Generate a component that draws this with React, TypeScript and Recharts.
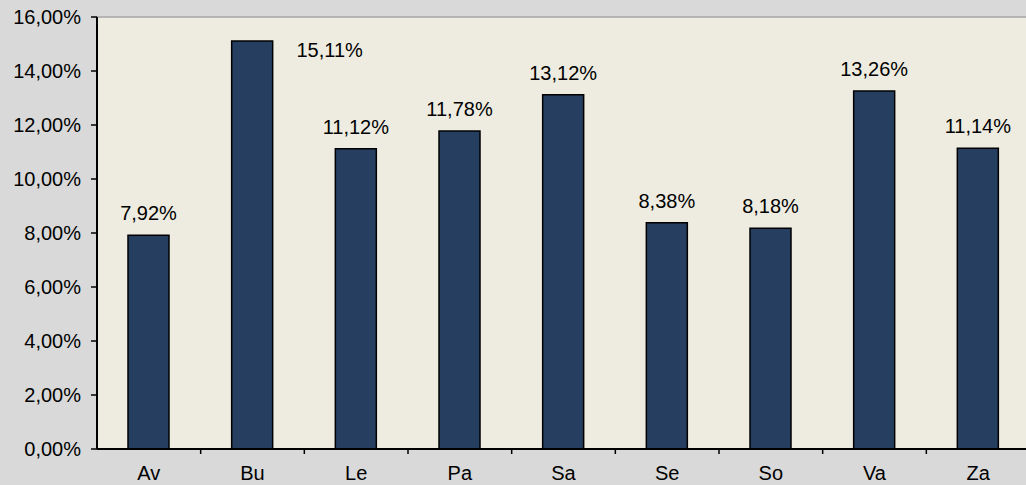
import { BarChart, Bar, XAxis, YAxis, CartesianGrid, LabelList, ReferenceLine } from "recharts"

const categories = ["Av", "Bu", "Le", "Pa", "Sa", "Se", "So", "Va", "Za"]
const shares = [7.92, 15.11, 11.12, 11.78, 13.12, 8.38, 8.18, 13.26, 11.14]
const yTicks = [0, 2, 4, 6, 8, 10, 12, 14, 16]

const data = categories.map((name, i) => ({ name, value: shares[i] }))

const fmt = (v: number) => v.toFixed(2).replace(".", ",") + "%"

const FONT = "Liberation Sans, Arial, sans-serif"
const BAND = 933 / categories.length

function CategoryTick(props: any) {
  const { x, y, payload, index } = props
  return (
    <g>
      {index < categories.length - 1 && (
        <line x1={x + BAND / 2} x2={x + BAND / 2} y1={y - 8} y2={y - 3} stroke="#000" strokeWidth={1.5} />
      )}
      <text x={x} y={y + 23} textAnchor="middle" fontSize={20} fontFamily={FONT} fill="#000">
        {payload.value}
      </text>
    </g>
  )
}

function ValueLabel(props: any) {
  const { x, y, width, value } = props
  // no room above the plot top: Excel pushes the label beside the bar
  const tooHigh = y - 36 < 17
  const cx = tooHigh ? x + width + 57 : x + width / 2
  const by = tooHigh ? y + 16 : y - 15
  return (
    <text x={cx} y={by} textAnchor="middle" fontSize={20} fontFamily={FONT} fill="#000">
      {fmt(value)}
    </text>
  )
}

export default function App() {
  return (
    <div
      style={{
        position: "fixed",
        left: 0,
        top: 0,
        width: 1026,
        height: 485,
        overflow: "hidden",
        background: "#d9d9d9",
      }}
    >
      <BarChart width={1030} height={485} data={data} margin={{ top: 17, right: 0, bottom: 0, left: 0 }} barCategoryGap={0}>
        <CartesianGrid fill="#eeece1" horizontal={false} vertical={false} />
        <ReferenceLine y={16} stroke="#a6a6a6" strokeWidth={1.5} />
        <YAxis
          width={97}
          domain={[0, 16]}
          ticks={yTicks}
          tickFormatter={fmt}
          axisLine={{ stroke: "#000", strokeWidth: 2 }}
          tickLine={{ stroke: "#000", strokeWidth: 1.5 }}
          tickSize={6}
          tickMargin={10}
          tick={{ fontSize: 20, fontFamily: FONT, fill: "#000" }}
        />
        <XAxis
          dataKey="name"
          height={36}
          axisLine={{ stroke: "#000", strokeWidth: 2 }}
          tickLine={false}
          tick={<CategoryTick />}
          interval={0}
        />
        <Bar dataKey="value" fill="#263f60" stroke="#000" strokeWidth={1.5} barSize={41} isAnimationActive={false}>
          <LabelList dataKey="value" content={<ValueLabel />} />
        </Bar>
      </BarChart>
    </div>
  )
}
